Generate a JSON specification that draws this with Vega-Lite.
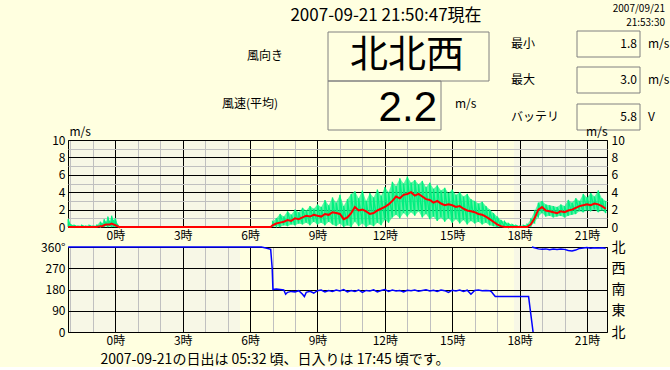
{
  "$schema": "https://vega.github.io/schema/vega-lite/v6.json",
  "background": "#FFFFE0",
  "padding": {"left": 40, "top": 0, "right": 0, "bottom": 0},
  "bounds": "flush",
  "spacing": 20,
  "config": {
    "font": "Noto Sans CJK JP",
    "view": {"stroke": "black"},
    "axis": {"ticks": false, "domain": false, "labelColor": "black", "labelFontSize": 12, "titleColor": "black", "titleFontWeight": "normal", "labelFlush": false, "labelOverlap": false},
    "text": {"color": "black"}
  },
  "datasets": {
    "now": [{"title": "2007-09-21 21:50:47現在", "d1": "2007/09/21", "d2": "21:53:30", "dir": "北北西", "avg": "2.2", "min": "1.8", "max": "3.0", "bat": "5.8"}],
    "spd": [
      {"m": -126, "r": 0, "lo": 0, "hi": 0.9, "s": "a"},
      {"m": -120, "r": 0, "lo": 0, "hi": 0.3, "s": "a"},
      {"m": -110, "r": 0, "lo": 0, "hi": 0.2, "s": "a"},
      {"m": -100, "r": 0, "lo": 0, "hi": 0.1, "s": "a"},
      {"m": -90, "r": 0, "lo": 0, "hi": 0.2, "s": "a"},
      {"m": -80, "r": 0, "lo": 0, "hi": 0.1, "s": "a"},
      {"m": -70, "r": 0, "lo": 0, "hi": 0.2, "s": "a"},
      {"m": -60, "r": 0, "lo": 0, "hi": 0.1, "s": "a"},
      {"m": -50, "r": 0, "lo": 0, "hi": 0.2, "s": "a"},
      {"m": -40, "r": 0.1, "lo": 0, "hi": 0.6, "s": "a"},
      {"m": -35, "r": 0.1, "lo": 0, "hi": 0.4, "s": "a"},
      {"m": -30, "r": 0.2, "lo": 0, "hi": 0.9, "s": "a"},
      {"m": -25, "r": 0.3, "lo": 0.1, "hi": 0.6, "s": "a"},
      {"m": -20, "r": 0.3, "lo": 0, "hi": 1.2, "s": "a"},
      {"m": -15, "r": 0.3, "lo": 0.1, "hi": 0.7, "s": "a"},
      {"m": -10, "r": 0.4, "lo": 0, "hi": 1.3, "s": "a"},
      {"m": -5, "r": 0.3, "lo": 0, "hi": 0.8, "s": "a"},
      {"m": 0, "r": 0.2, "lo": 0, "hi": 1.0, "s": "a"},
      {"m": 5, "r": 0.1, "lo": 0, "hi": 0.3, "s": "a"},
      {"m": 10, "r": 0, "lo": 0, "hi": 0.1, "s": "a"},
      {"m": 415, "r": 0},
      {"m": 420, "r": 0.2, "lo": 0, "hi": 0.6, "s": "b"},
      {"m": 430, "r": 0.4, "lo": 0.1, "hi": 1.0, "s": "b"},
      {"m": 440, "r": 0.5, "lo": 0, "hi": 1.5, "s": "b"},
      {"m": 450, "r": 0.6, "lo": 0.2, "hi": 1.2, "s": "b"},
      {"m": 460, "r": 0.8, "lo": 0.1, "hi": 1.8, "s": "b"},
      {"m": 470, "r": 0.7, "lo": 0.3, "hi": 1.4, "s": "b"},
      {"m": 480, "r": 1.0, "lo": 0.2, "hi": 2.0, "s": "b"},
      {"m": 490, "r": 0.9, "lo": 0.4, "hi": 1.7, "s": "b"},
      {"m": 500, "r": 1.1, "lo": 0.3, "hi": 2.2, "s": "b"},
      {"m": 510, "r": 1.3, "lo": 0.5, "hi": 1.9, "s": "b"},
      {"m": 520, "r": 1.2, "lo": 0.2, "hi": 2.4, "s": "b"},
      {"m": 530, "r": 1.4, "lo": 0.6, "hi": 2.1, "s": "b"},
      {"m": 540, "r": 1.3, "lo": 0.3, "hi": 2.6, "s": "b"},
      {"m": 550, "r": 1.2, "lo": 0.5, "hi": 2.3, "s": "b"},
      {"m": 560, "r": 1.5, "lo": 0.2, "hi": 3.1, "s": "b"},
      {"m": 570, "r": 1.4, "lo": 0.6, "hi": 2.5, "s": "b"},
      {"m": 580, "r": 1.7, "lo": 0.3, "hi": 3.4, "s": "b"},
      {"m": 590, "r": 1.6, "lo": 0.1, "hi": 2.8, "s": "b"},
      {"m": 600, "r": 1.5, "lo": 0.4, "hi": 3.7, "s": "b"},
      {"m": 610, "r": 0.9, "lo": 0, "hi": 2.4, "s": "b"},
      {"m": 620, "r": 1.1, "lo": 0.2, "hi": 3.2, "s": "b"},
      {"m": 630, "r": 1.6, "lo": 0, "hi": 3.8, "s": "b"},
      {"m": 640, "r": 2.3, "lo": 0.6, "hi": 4.1, "s": "b"},
      {"m": 650, "r": 1.9, "lo": 0.1, "hi": 3.3, "s": "b"},
      {"m": 660, "r": 2.0, "lo": 0.4, "hi": 4.2, "s": "b"},
      {"m": 670, "r": 1.8, "lo": 0, "hi": 3.0, "s": "b"},
      {"m": 680, "r": 1.5, "lo": 0.3, "hi": 3.9, "s": "b"},
      {"m": 690, "r": 1.6, "lo": 0.1, "hi": 3.4, "s": "b"},
      {"m": 700, "r": 1.9, "lo": 0.5, "hi": 4.3, "s": "b"},
      {"m": 710, "r": 2.1, "lo": 0.2, "hi": 3.6, "s": "b"},
      {"m": 720, "r": 2.3, "lo": 0.8, "hi": 4.6, "s": "b"},
      {"m": 730, "r": 2.6, "lo": 0.5, "hi": 4.0, "s": "b"},
      {"m": 740, "r": 3.0, "lo": 1.1, "hi": 5.2, "s": "b"},
      {"m": 750, "r": 3.5, "lo": 1.4, "hi": 4.7, "s": "b"},
      {"m": 760, "r": 3.3, "lo": 1.0, "hi": 5.6, "s": "b"},
      {"m": 770, "r": 3.7, "lo": 1.6, "hi": 5.0, "s": "b"},
      {"m": 780, "r": 3.8, "lo": 1.2, "hi": 5.8, "s": "b"},
      {"m": 790, "r": 4.0, "lo": 1.7, "hi": 5.1, "s": "b"},
      {"m": 800, "r": 3.6, "lo": 1.3, "hi": 5.4, "s": "b"},
      {"m": 810, "r": 3.8, "lo": 1.8, "hi": 4.9, "s": "b"},
      {"m": 820, "r": 3.5, "lo": 1.1, "hi": 5.3, "s": "b"},
      {"m": 830, "r": 3.2, "lo": 1.5, "hi": 4.6, "s": "b"},
      {"m": 840, "r": 3.1, "lo": 0.9, "hi": 5.1, "s": "b"},
      {"m": 850, "r": 2.8, "lo": 1.2, "hi": 4.4, "s": "b"},
      {"m": 860, "r": 3.0, "lo": 0.7, "hi": 4.8, "s": "b"},
      {"m": 870, "r": 2.7, "lo": 1.1, "hi": 4.2, "s": "b"},
      {"m": 880, "r": 2.5, "lo": 0.6, "hi": 4.5, "s": "b"},
      {"m": 890, "r": 2.6, "lo": 1.0, "hi": 3.9, "s": "b"},
      {"m": 900, "r": 2.5, "lo": 0.5, "hi": 4.3, "s": "b"},
      {"m": 910, "r": 2.3, "lo": 0.9, "hi": 3.7, "s": "b"},
      {"m": 920, "r": 2.4, "lo": 0.4, "hi": 4.0, "s": "b"},
      {"m": 930, "r": 2.1, "lo": 0.8, "hi": 3.5, "s": "b"},
      {"m": 940, "r": 1.9, "lo": 0.3, "hi": 3.8, "s": "b"},
      {"m": 950, "r": 1.8, "lo": 0.7, "hi": 3.2, "s": "b"},
      {"m": 960, "r": 1.7, "lo": 0.4, "hi": 3.0, "s": "b"},
      {"m": 970, "r": 1.5, "lo": 0.6, "hi": 2.7, "s": "b"},
      {"m": 980, "r": 1.4, "lo": 0.3, "hi": 2.9, "s": "b"},
      {"m": 990, "r": 1.2, "lo": 0.5, "hi": 2.4, "s": "b"},
      {"m": 1000, "r": 0.9, "lo": 0.2, "hi": 2.0, "s": "b"},
      {"m": 1010, "r": 0.6, "lo": 0.1, "hi": 1.6, "s": "b"},
      {"m": 1020, "r": 0.3, "lo": 0, "hi": 1.2, "s": "b"},
      {"m": 1030, "r": 0.1, "lo": 0, "hi": 0.8, "s": "b"},
      {"m": 1040, "r": 0, "lo": 0, "hi": 0.6, "s": "b"},
      {"m": 1050, "r": 0, "lo": 0, "hi": 0.4, "s": "b"},
      {"m": 1060, "r": 0, "lo": 0, "hi": 0.3, "s": "b"},
      {"m": 1070, "r": 0, "lo": 0, "hi": 0.2, "s": "b"},
      {"m": 1080, "r": 0, "lo": 0, "hi": 0.1, "s": "b"},
      {"m": 1090, "r": 0, "lo": 0, "hi": 0.2, "s": "b"},
      {"m": 1100, "r": 0, "lo": 0, "hi": 0.3, "s": "b"},
      {"m": 1110, "r": 0.3, "lo": 0.1, "hi": 0.9, "s": "b"},
      {"m": 1120, "r": 1.0, "lo": 0.5, "hi": 1.8, "s": "b"},
      {"m": 1130, "r": 2.0, "lo": 1.2, "hi": 2.8, "s": "b"},
      {"m": 1140, "r": 2.3, "lo": 1.6, "hi": 3.0, "s": "b"},
      {"m": 1150, "r": 1.9, "lo": 1.2, "hi": 2.6, "s": "b"},
      {"m": 1160, "r": 1.8, "lo": 1.3, "hi": 2.5, "s": "b"},
      {"m": 1170, "r": 1.7, "lo": 1.1, "hi": 2.4, "s": "b"},
      {"m": 1180, "r": 1.6, "lo": 1.2, "hi": 2.3, "s": "b"},
      {"m": 1190, "r": 1.8, "lo": 1.3, "hi": 2.6, "s": "b"},
      {"m": 1200, "r": 1.7, "lo": 1.1, "hi": 2.4, "s": "b"},
      {"m": 1210, "r": 1.9, "lo": 1.3, "hi": 3.1, "s": "b"},
      {"m": 1220, "r": 2.0, "lo": 1.4, "hi": 2.8, "s": "b"},
      {"m": 1230, "r": 2.2, "lo": 1.5, "hi": 3.3, "s": "b"},
      {"m": 1240, "r": 2.4, "lo": 1.8, "hi": 3.0, "s": "b"},
      {"m": 1250, "r": 2.5, "lo": 1.7, "hi": 3.8, "s": "b"},
      {"m": 1260, "r": 2.6, "lo": 1.9, "hi": 3.4, "s": "b"},
      {"m": 1270, "r": 2.5, "lo": 1.8, "hi": 3.9, "s": "b"},
      {"m": 1280, "r": 2.7, "lo": 2.0, "hi": 3.5, "s": "b"},
      {"m": 1290, "r": 2.6, "lo": 1.7, "hi": 4.2, "s": "b"},
      {"m": 1300, "r": 2.4, "lo": 1.9, "hi": 3.3, "s": "b"},
      {"m": 1310, "r": 2.1, "lo": 1.6, "hi": 3.0, "s": "b"}
    ],
    "dir": [
      {"m": -126, "d": 360, "s": "a"}, {"m": 390, "d": 360, "s": "a"}, {"m": 405, "d": 355, "s": "a"}, {"m": 415, "d": 350, "s": "a"}, {"m": 419, "d": 270, "s": "a"}, {"m": 421, "d": 180, "s": "a"},
      {"m": 430, "d": 182, "s": "a"}, {"m": 440, "d": 180, "s": "a"}, {"m": 450, "d": 178, "s": "a"}, {"m": 455, "d": 160, "s": "a"}, {"m": 460, "d": 168, "s": "a"}, {"m": 470, "d": 172, "s": "a"},
      {"m": 480, "d": 170, "s": "a"}, {"m": 490, "d": 175, "s": "a"}, {"m": 500, "d": 160, "s": "a"}, {"m": 505, "d": 150, "s": "a"}, {"m": 510, "d": 168, "s": "a"}, {"m": 520, "d": 172, "s": "a"},
      {"m": 530, "d": 165, "s": "a"}, {"m": 540, "d": 175, "s": "a"}, {"m": 550, "d": 178, "s": "a"}, {"m": 560, "d": 170, "s": "a"}, {"m": 570, "d": 176, "s": "a"}, {"m": 580, "d": 172, "s": "a"},
      {"m": 590, "d": 178, "s": "a"}, {"m": 600, "d": 174, "s": "a"}, {"m": 610, "d": 180, "s": "a"}, {"m": 620, "d": 170, "s": "a"}, {"m": 630, "d": 176, "s": "a"}, {"m": 640, "d": 172, "s": "a"},
      {"m": 650, "d": 178, "s": "a"}, {"m": 660, "d": 168, "s": "a"}, {"m": 670, "d": 176, "s": "a"}, {"m": 680, "d": 174, "s": "a"}, {"m": 690, "d": 179, "s": "a"}, {"m": 700, "d": 170, "s": "a"},
      {"m": 710, "d": 176, "s": "a"}, {"m": 720, "d": 180, "s": "a"}, {"m": 730, "d": 172, "s": "a"}, {"m": 740, "d": 178, "s": "a"}, {"m": 750, "d": 174, "s": "a"}, {"m": 760, "d": 176, "s": "a"},
      {"m": 770, "d": 170, "s": "a"}, {"m": 780, "d": 177, "s": "a"}, {"m": 790, "d": 175, "s": "a"}, {"m": 800, "d": 178, "s": "a"}, {"m": 810, "d": 173, "s": "a"}, {"m": 820, "d": 176, "s": "a"},
      {"m": 830, "d": 179, "s": "a"}, {"m": 840, "d": 174, "s": "a"}, {"m": 850, "d": 177, "s": "a"}, {"m": 860, "d": 172, "s": "a"}, {"m": 870, "d": 178, "s": "a"}, {"m": 880, "d": 175, "s": "a"},
      {"m": 890, "d": 168, "s": "a"}, {"m": 900, "d": 177, "s": "a"}, {"m": 910, "d": 174, "s": "a"}, {"m": 920, "d": 178, "s": "a"}, {"m": 930, "d": 172, "s": "a"}, {"m": 940, "d": 177, "s": "a"},
      {"m": 950, "d": 160, "s": "a"}, {"m": 960, "d": 176, "s": "a"}, {"m": 970, "d": 178, "s": "a"}, {"m": 980, "d": 175, "s": "a"}, {"m": 990, "d": 176, "s": "a"}, {"m": 1000, "d": 175, "s": "a"},
      {"m": 1005, "d": 170, "s": "a"}, {"m": 1010, "d": 160, "s": "a"}, {"m": 1015, "d": 150, "s": "a"}, {"m": 1104, "d": 150, "s": "a"}, {"m": 1116, "d": 0, "s": "a"},
      {"m": 1113, "d": 360, "s": "b"}, {"m": 1120, "d": 357, "s": "b"}, {"m": 1130, "d": 352, "s": "b"}, {"m": 1140, "d": 350, "s": "b"}, {"m": 1150, "d": 352, "s": "b"}, {"m": 1160, "d": 348, "s": "b"},
      {"m": 1170, "d": 351, "s": "b"}, {"m": 1180, "d": 349, "s": "b"}, {"m": 1190, "d": 352, "s": "b"}, {"m": 1200, "d": 350, "s": "b"}, {"m": 1210, "d": 345, "s": "b"}, {"m": 1220, "d": 343, "s": "b"},
      {"m": 1230, "d": 347, "s": "b"}, {"m": 1240, "d": 354, "s": "b"}, {"m": 1250, "d": 356, "s": "b"}, {"m": 1260, "d": 358, "s": "b"}, {"m": 1270, "d": 355, "s": "b"}, {"m": 1280, "d": 357, "s": "b"},
      {"m": 1290, "d": 356, "s": "b"}, {"m": 1300, "d": 357, "s": "b"}, {"m": 1310, "d": 355, "s": "b"}
    ]
  },
  "vconcat": [
    {
      "width": 539,
      "height": 120,
      "view": {"stroke": null, "fill": null},
      "data": {"name": "now"},
      "layer": [
        {"mark": {"type": "rect", "filled": false, "color": "#808080"}, "encoding": {"x": {"datum": 328, "type": "quantitative", "scale": {"domain": [68, 607], "nice": false, "zero": false}, "axis": null}, "x2": {"datum": 489}, "y": {"datum": 32, "type": "quantitative", "scale": {"domain": [0, 120], "reverse": true, "nice": false, "zero": false}, "axis": null}, "y2": {"datum": 81}}},
        {"mark": {"type": "rect", "filled": false, "color": "#808080"}, "encoding": {"x": {"datum": 328, "type": "quantitative", "scale": {"domain": [68, 607], "nice": false, "zero": false}, "axis": null}, "x2": {"datum": 441}, "y": {"datum": 81, "type": "quantitative", "scale": {"domain": [0, 120], "reverse": true, "nice": false, "zero": false}, "axis": null}, "y2": {"datum": 130}}},
        {"mark": {"type": "rect", "filled": false, "color": "#808080"}, "encoding": {"x": {"datum": 577, "type": "quantitative", "scale": {"domain": [68, 607], "nice": false, "zero": false}, "axis": null}, "x2": {"datum": 640}, "y": {"datum": 31, "type": "quantitative", "scale": {"domain": [0, 120], "reverse": true, "nice": false, "zero": false}, "axis": null}, "y2": {"datum": 57}}},
        {"mark": {"type": "rect", "filled": false, "color": "#808080"}, "encoding": {"x": {"datum": 577, "type": "quantitative", "scale": {"domain": [68, 607], "nice": false, "zero": false}, "axis": null}, "x2": {"datum": 640}, "y": {"datum": 67, "type": "quantitative", "scale": {"domain": [0, 120], "reverse": true, "nice": false, "zero": false}, "axis": null}, "y2": {"datum": 93}}},
        {"mark": {"type": "rect", "filled": false, "color": "#808080"}, "encoding": {"x": {"datum": 577, "type": "quantitative", "scale": {"domain": [68, 607], "nice": false, "zero": false}, "axis": null}, "x2": {"datum": 640}, "y": {"datum": 104, "type": "quantitative", "scale": {"domain": [0, 120], "reverse": true, "nice": false, "zero": false}, "axis": null}, "y2": {"datum": 130}}},
        {"mark": {"type": "text", "align": "center", "baseline": "middle", "fontSize": 17}, "encoding": {"x": {"datum": 386, "type": "quantitative", "scale": {"domain": [68, 607], "nice": false, "zero": false}, "axis": null}, "y": {"datum": 16, "type": "quantitative", "scale": {"domain": [0, 120], "reverse": true, "nice": false, "zero": false}, "axis": null}, "text": {"field": "title"}}},
        {"mark": {"type": "text", "align": "right", "baseline": "middle", "fontSize": 10}, "encoding": {"x": {"datum": 665, "type": "quantitative", "scale": {"domain": [68, 607], "nice": false, "zero": false}, "axis": null}, "y": {"datum": 9, "type": "quantitative", "scale": {"domain": [0, 120], "reverse": true, "nice": false, "zero": false}, "axis": null}, "text": {"field": "d1"}}},
        {"mark": {"type": "text", "align": "right", "baseline": "middle", "fontSize": 10}, "encoding": {"x": {"datum": 665, "type": "quantitative", "scale": {"domain": [68, 607], "nice": false, "zero": false}, "axis": null}, "y": {"datum": 23, "type": "quantitative", "scale": {"domain": [0, 120], "reverse": true, "nice": false, "zero": false}, "axis": null}, "text": {"field": "d2"}}},
        {"mark": {"type": "text", "align": "right", "baseline": "middle", "fontSize": 12, "text": "風向き"}, "encoding": {"x": {"datum": 283, "type": "quantitative", "scale": {"domain": [68, 607], "nice": false, "zero": false}, "axis": null}, "y": {"datum": 56, "type": "quantitative", "scale": {"domain": [0, 120], "reverse": true, "nice": false, "zero": false}, "axis": null}}},
        {"mark": {"type": "text", "align": "right", "baseline": "middle", "fontSize": 12, "text": "風速(平均)"}, "encoding": {"x": {"datum": 278, "type": "quantitative", "scale": {"domain": [68, 607], "nice": false, "zero": false}, "axis": null}, "y": {"datum": 104, "type": "quantitative", "scale": {"domain": [0, 120], "reverse": true, "nice": false, "zero": false}, "axis": null}}},
        {"mark": {"type": "text", "align": "center", "baseline": "middle", "fontSize": 38}, "encoding": {"x": {"datum": 407, "type": "quantitative", "scale": {"domain": [68, 607], "nice": false, "zero": false}, "axis": null}, "y": {"datum": 56, "type": "quantitative", "scale": {"domain": [0, 120], "reverse": true, "nice": false, "zero": false}, "axis": null}, "text": {"field": "dir"}}},
        {"mark": {"type": "text", "align": "right", "baseline": "middle", "fontSize": 42, "font": "Liberation Sans"}, "encoding": {"x": {"datum": 437, "type": "quantitative", "scale": {"domain": [68, 607], "nice": false, "zero": false}, "axis": null}, "y": {"datum": 108, "type": "quantitative", "scale": {"domain": [0, 120], "reverse": true, "nice": false, "zero": false}, "axis": null}, "text": {"field": "avg"}}},
        {"mark": {"type": "text", "align": "left", "baseline": "middle", "fontSize": 12, "text": "m/s"}, "encoding": {"x": {"datum": 455, "type": "quantitative", "scale": {"domain": [68, 607], "nice": false, "zero": false}, "axis": null}, "y": {"datum": 104, "type": "quantitative", "scale": {"domain": [0, 120], "reverse": true, "nice": false, "zero": false}, "axis": null}}},
        {"mark": {"type": "text", "align": "left", "baseline": "middle", "fontSize": 12, "text": "最小"}, "encoding": {"x": {"datum": 511, "type": "quantitative", "scale": {"domain": [68, 607], "nice": false, "zero": false}, "axis": null}, "y": {"datum": 44, "type": "quantitative", "scale": {"domain": [0, 120], "reverse": true, "nice": false, "zero": false}, "axis": null}}},
        {"mark": {"type": "text", "align": "left", "baseline": "middle", "fontSize": 12, "text": "最大"}, "encoding": {"x": {"datum": 511, "type": "quantitative", "scale": {"domain": [68, 607], "nice": false, "zero": false}, "axis": null}, "y": {"datum": 80, "type": "quantitative", "scale": {"domain": [0, 120], "reverse": true, "nice": false, "zero": false}, "axis": null}}},
        {"mark": {"type": "text", "align": "left", "baseline": "middle", "fontSize": 12, "text": "バッテリ"}, "encoding": {"x": {"datum": 511, "type": "quantitative", "scale": {"domain": [68, 607], "nice": false, "zero": false}, "axis": null}, "y": {"datum": 117, "type": "quantitative", "scale": {"domain": [0, 120], "reverse": true, "nice": false, "zero": false}, "axis": null}}},
        {"mark": {"type": "text", "align": "right", "baseline": "middle", "fontSize": 12}, "encoding": {"x": {"datum": 637, "type": "quantitative", "scale": {"domain": [68, 607], "nice": false, "zero": false}, "axis": null}, "y": {"datum": 44, "type": "quantitative", "scale": {"domain": [0, 120], "reverse": true, "nice": false, "zero": false}, "axis": null}, "text": {"field": "min"}}},
        {"mark": {"type": "text", "align": "right", "baseline": "middle", "fontSize": 12}, "encoding": {"x": {"datum": 637, "type": "quantitative", "scale": {"domain": [68, 607], "nice": false, "zero": false}, "axis": null}, "y": {"datum": 80, "type": "quantitative", "scale": {"domain": [0, 120], "reverse": true, "nice": false, "zero": false}, "axis": null}, "text": {"field": "max"}}},
        {"mark": {"type": "text", "align": "right", "baseline": "middle", "fontSize": 12}, "encoding": {"x": {"datum": 637, "type": "quantitative", "scale": {"domain": [68, 607], "nice": false, "zero": false}, "axis": null}, "y": {"datum": 117, "type": "quantitative", "scale": {"domain": [0, 120], "reverse": true, "nice": false, "zero": false}, "axis": null}, "text": {"field": "bat"}}},
        {"mark": {"type": "text", "align": "left", "baseline": "middle", "fontSize": 12, "text": "m/s"}, "encoding": {"x": {"datum": 648, "type": "quantitative", "scale": {"domain": [68, 607], "nice": false, "zero": false}, "axis": null}, "y": {"datum": 44, "type": "quantitative", "scale": {"domain": [0, 120], "reverse": true, "nice": false, "zero": false}, "axis": null}}},
        {"mark": {"type": "text", "align": "left", "baseline": "middle", "fontSize": 12, "text": "m/s"}, "encoding": {"x": {"datum": 648, "type": "quantitative", "scale": {"domain": [68, 607], "nice": false, "zero": false}, "axis": null}, "y": {"datum": 80, "type": "quantitative", "scale": {"domain": [0, 120], "reverse": true, "nice": false, "zero": false}, "axis": null}}},
        {"mark": {"type": "text", "align": "left", "baseline": "middle", "fontSize": 12, "text": "V"}, "encoding": {"x": {"datum": 648, "type": "quantitative", "scale": {"domain": [68, 607], "nice": false, "zero": false}, "axis": null}, "y": {"datum": 117, "type": "quantitative", "scale": {"domain": [0, 120], "reverse": true, "nice": false, "zero": false}, "axis": null}}}
      ]
    },
    {
      "width": 539,
      "height": 87,
      "view": {"stroke": "black", "fill": {"gradient": "linear", "x1": 0, "y1": 0, "x2": 1, "y2": 0, "stops": [{"offset": 0, "color": "#F7F7E6"}, {"offset": 0.3184, "color": "#F7F7E6"}, {"offset": 0.3184, "color": "#FFFFE0"}, {"offset": 0.8274, "color": "#FFFFE0"}, {"offset": 0.8274, "color": "#F7F7E6"}, {"offset": 1, "color": "#F7F7E6"}]}},
      "data": {"name": "spd"},
      "encoding": {
        "x": {"field": "m", "type": "quantitative", "scale": {"domain": [-126.5, 1313.5], "nice": false, "zero": false},
          "axis": {"values": [-120, -60, 0, 60, 120, 180, 240, 300, 360, 420, 480, 540, 600, 660, 720, 780, 840, 900, 960, 1020, 1080, 1140, 1200, 1260], "labelExpr": "datum.value % 180 === 0 ? (datum.value / 60) + '時' : ''", "grid": true, "gridColor": {"condition": {"test": "datum.value % 180 === 0", "value": "black"}, "value": "#C0C0C0"}, "title": null, "labelFontSize": 12, "labelPadding": 3}}
      },
      "layer": [
        {"transform": [{"filter": "isValid(datum.lo)"}], "mark": {"type": "area", "color": "#00F080", "opacity": 0.65}, "encoding": {"y": {"field": "lo", "type": "quantitative", "scale": {"domain": [0, 10], "nice": false}, "axis": null}, "y2": {"field": "hi"}, "detail": {"field": "s"}}},
        {"transform": [{"filter": "isValid(datum.lo)"}, {"fold": ["lo", "hi"], "as": ["k", "g"]}], "mark": {"type": "line", "color": "#00F080", "strokeWidth": 1.3}, "encoding": {"y": {"field": "g", "type": "quantitative", "scale": {"domain": [0, 10], "nice": false}, "axis": {"orient": "right", "values": [0, 2, 4, 6, 8, 10], "grid": false, "title": "m/s", "titleAngle": 0, "titleX": 0, "titleY": -2, "titleAlign": "right", "titleBaseline": "bottom", "titleFontSize": 12, "labelPadding": 4}}, "detail": {"field": "s"}}},
        {"mark": {"type": "line", "color": "#FF0000", "strokeWidth": 2}, "encoding": {"y": {"field": "r", "type": "quantitative", "scale": {"domain": [0, 10], "nice": false}, "axis": {"orient": "left", "values": [0, 1, 2, 3, 4, 5, 6, 7, 8, 9, 10], "labelExpr": "datum.value % 2 === 0 ? datum.label : ''", "grid": true, "gridColor": {"condition": {"test": "datum.value % 2 === 0", "value": "black"}, "value": "#C0C0C0"}, "title": "m/s", "titleAngle": 0, "titleX": 1, "titleY": -2, "titleAlign": "left", "titleBaseline": "bottom", "titleFontSize": 12, "labelPadding": 3}}}}
      ],
      "resolve": {"axis": {"y": "independent"}}
    },
    {
      "width": 539,
      "height": 85,
      "view": {"stroke": "black", "fill": {"gradient": "linear", "x1": 0, "y1": 0, "x2": 1, "y2": 0, "stops": [{"offset": 0, "color": "#F7F7E6"}, {"offset": 0.3184, "color": "#F7F7E6"}, {"offset": 0.3184, "color": "#FFFFE0"}, {"offset": 0.8274, "color": "#FFFFE0"}, {"offset": 0.8274, "color": "#F7F7E6"}, {"offset": 1, "color": "#F7F7E6"}]}},
      "data": {"name": "dir"},
      "encoding": {
        "x": {"field": "m", "type": "quantitative", "scale": {"domain": [-126.5, 1313.5], "nice": false, "zero": false},
          "axis": {"values": [-120, -60, 0, 60, 120, 180, 240, 300, 360, 420, 480, 540, 600, 660, 720, 780, 840, 900, 960, 1020, 1080, 1140, 1200, 1260], "labelExpr": "datum.value % 180 === 0 ? (datum.value / 60) + '時' : ''", "grid": true, "gridColor": {"condition": {"test": "datum.value % 180 === 0", "value": "black"}, "value": "#C0C0C0"}, "labelFontSize": 12, "labelPadding": 3,
            "title": "2007-09-21の日出は 05:32 頃、日入りは 17:45 頃です。", "titleFontSize": 14, "titleX": 32, "titleY": 27, "titleAlign": "left", "titleBaseline": "middle"}}
      },
      "layer": [
        {"transform": [{"filter": "datum.s === 'a'"}], "mark": {"type": "line", "color": "#0000FF", "strokeWidth": 1.5}, "encoding": {"y": {"field": "d", "type": "quantitative", "scale": {"domain": [0, 360], "nice": false}, "axis": {"orient": "left", "values": [0, 90, 180, 270, 360], "labelExpr": "datum.value === 360 ? '360°' : datum.label", "grid": true, "gridColor": "black", "title": null, "labelPadding": 3}}}},
        {"transform": [{"filter": "datum.s === 'b'"}], "mark": {"type": "line", "color": "#0000FF", "strokeWidth": 1.5}, "encoding": {"y": {"field": "d", "type": "quantitative", "scale": {"domain": [0, 360], "nice": false}, "axis": {"orient": "right", "values": [0, 90, 180, 270, 360], "labelExpr": "datum.value === 90 ? '東' : datum.value === 180 ? '南' : datum.value === 270 ? '西' : '北'", "grid": false, "title": null, "labelFontSize": 14, "labelPadding": 4}}}}
      ],
      "resolve": {"axis": {"y": "independent"}}
    }
  ]
}
